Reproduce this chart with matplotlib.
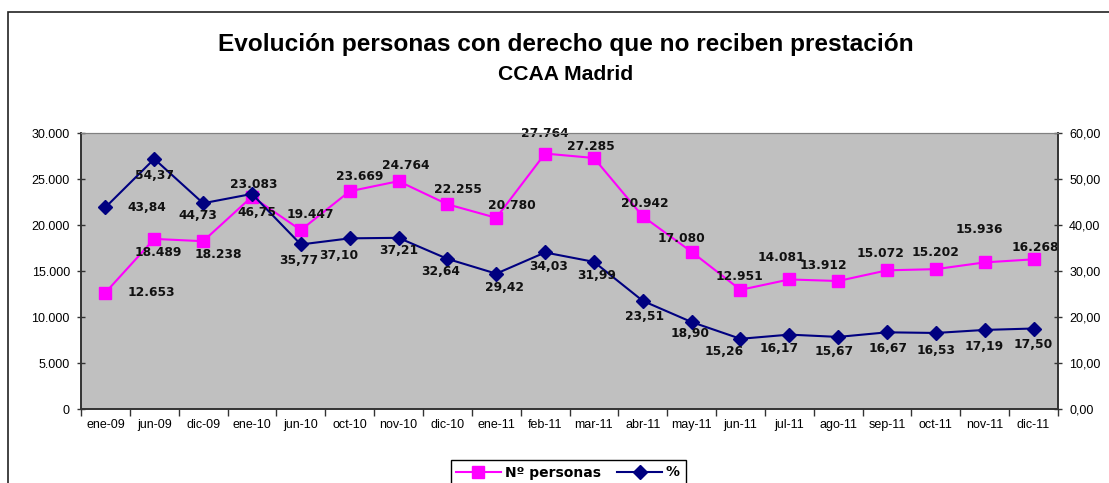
import matplotlib
matplotlib.use('Agg')
import matplotlib.pyplot as plt
from matplotlib.ticker import FuncFormatter, FixedLocator
from matplotlib.patches import Rectangle

# data
meses = ['ene-09', 'jun-09', 'dic-09', 'ene-10', 'jun-10', 'oct-10', 'nov-10', 'dic-10',
         'ene-11', 'feb-11', 'mar-11', 'abr-11', 'may-11', 'jun-11', 'jul-11', 'ago-11',
         'sep-11', 'oct-11', 'nov-11', 'dic-11']
personas = [12653, 18489, 18238, 23083, 19447, 23669, 24764, 22255, 20780, 27764,
            27285, 20942, 17080, 12951, 14081, 13912, 15072, 15202, 15936, 16268]
porcentaje = [43.84, 54.37, 44.73, 46.75, 35.77, 37.10, 37.21, 32.64, 29.42, 34.03,
              31.99, 23.51, 18.90, 15.26, 16.17, 15.67, 16.67, 16.53, 17.19, 17.50]

# label offsets in pixels (dx, dy), dy positive = up
off_pers = [(46, 0), (4, -14), (15, -13), (2, 12), (9, 16), (10, 15), (7, 16), (11, 15),
            (16, 12), (0, 20), (-3, 11), (2, 13), (-10, 13), (-1, 13), (-8, 22), (-15, 16),
            (-7, 17), (0, 17), (-5, 33), (2, 12)]
off_pct = [(41, 0), (0, -17), (-5, -12), (5, -19), (-2, -16), (-11, -17), (0, -13), (-7, -13),
           (8, -14), (4, -14), (3, -14), (2, -16), (-2, -11), (-16, -13), (-10, -14), (-4, -15),
           (1, -16), (0, -18), (-1, -17), (0, -16)]

W, H = 1109, 483
fig = plt.figure(figsize=(W / 100, H / 100), dpi=100)

# chart border (cropped on right and bottom)
fig.patches.append(Rectangle((8 / W, -0.1), 1.2, 1 - 12 / H + 0.1, transform=fig.transFigure,
                             fill=False, edgecolor='#222222', linewidth=1.2))

ax = fig.add_axes([81 / W, 1 - 409 / H, (1058 - 81) / W, (409 - 133) / H])
ax.set_facecolor('#C0C0C0')
ax2 = ax.twinx()

x = list(range(len(meses)))
l1, = ax.plot(x, personas, color='#FF00FF', marker='s', markersize=8, linewidth=1.5,
              label='Nº personas')
l2, = ax2.plot(x, porcentaje, color='#000080', marker='D', markersize=7, linewidth=1.5,
               label='%')

ax.set_xlim(-0.5, len(meses) - 0.5)
ax.set_ylim(0, 30000)
ax2.set_ylim(0, 60)
ax.set_yticks(range(0, 30001, 5000))
ax2.set_yticks(range(0, 61, 10))
ax.yaxis.set_major_formatter(FuncFormatter(lambda v, p: f'{int(v):,}'.replace(',', '.')))
ax2.yaxis.set_major_formatter(FuncFormatter(lambda v, p: f'{v:.2f}'.replace('.', ',')))

ax.xaxis.set_major_locator(FixedLocator([i - 0.5 for i in range(len(meses) + 1)]))
ax.xaxis.set_minor_locator(FixedLocator(x))
ax.set_xticklabels([], minor=False)
ax.set_xticklabels(meses, minor=True)
ax.tick_params(axis='x', which='major', direction='out', length=5, width=1, color='#333333')
ax.tick_params(axis='x', which='minor', length=0, pad=7)
ax.tick_params(axis='y', direction='inout', length=6, width=1, pad=5, color='#333333')
ax2.tick_params(axis='y', direction='inout', length=6, width=1, pad=5, color='#333333')
for lab in ax.get_xticklabels(minor=True) + ax.get_yticklabels() + ax2.get_yticklabels():
    lab.set_fontfamily('Liberation Sans')
    lab.set_fontsize(9)

for a in (ax, ax2):
    a.spines['top'].set_color('#808080')
    a.spines['left'].set_color('#333333')
    a.spines['right'].set_color('#333333')
    a.spines['bottom'].set_color('#333333')
    a.spines['left'].set_linewidth(1.2)
    a.spines['right'].set_linewidth(1.2)
    a.spines['bottom'].set_linewidth(1.2)

for i, v in enumerate(personas):
    ax.annotate(f'{v:,}'.replace(',', '.'), (i, v), xytext=off_pers[i], textcoords='offset pixels',
                ha='center', va='center', fontsize=8.8, fontweight='bold', color='#111111')
for i, v in enumerate(porcentaje):
    ax2.annotate(f'{v:.2f}'.replace('.', ','), (i, v), xytext=off_pct[i], textcoords='offset pixels',
                 ha='center', va='center', fontsize=8.8, fontweight='bold', color='#111111')

fig.text(566 / W, 1 - 45 / H, 'Evolución personas con derecho que no reciben prestación',
         ha='center', va='center', fontsize=17.6, fontweight='bold', family='Liberation Sans')
fig.text(566 / W, 1 - 75 / H, 'CCAA Madrid', ha='center', va='center', fontsize=15.2,
         fontweight='bold', family='Liberation Sans')

leg = fig.legend(handles=[l1, l2], loc='upper center', bbox_to_anchor=(568 / W, 1 - 453 / H),
                 ncol=2, frameon=True, fancybox=False, edgecolor='black', framealpha=1,
                 prop={'weight': 'bold', 'size': 10}, handlelength=3.2, columnspacing=1.2,
                 borderpad=0.4, handletextpad=0.3)
leg.get_frame().set_linewidth(1)

fig.savefig('out.png', dpi=100)
